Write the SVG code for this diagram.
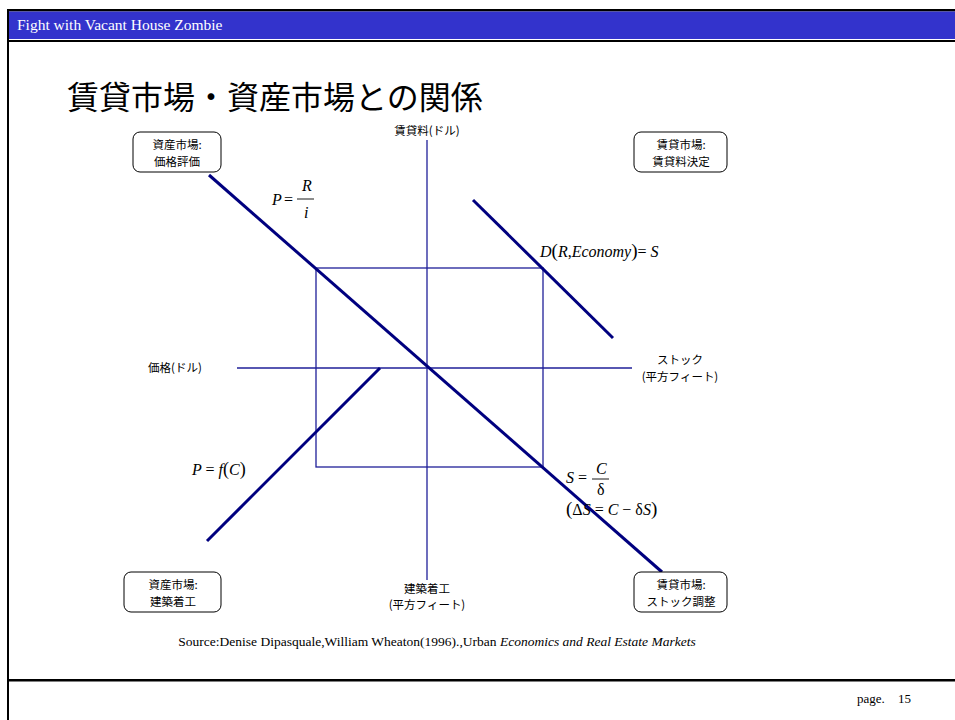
<svg xmlns="http://www.w3.org/2000/svg" width="955" height="720" viewBox="0 0 955 720">
<style>
.jp{font-family:"Noto Sans CJK JP","Noto Sans",sans-serif;font-size:11.5px;fill:#000}
.mc{font-family:"Liberation Serif","Times New Roman",serif;font-style:italic;font-size:16px;fill:#000}
.mr{font-family:"Liberation Serif","Times New Roman",serif;font-size:16px;fill:#000}
.serif{font-family:"Liberation Serif","Times New Roman",serif}
.box{fill:#fff;stroke:#000;stroke-width:1}
.thin{stroke:#1f1f99;stroke-width:1.3;fill:none}
.thick{stroke:#00007f;stroke-width:3;fill:none}
</style>
<rect x="0" y="0" width="955" height="720" fill="#fff"/>
<g id="frame">
<rect x="7" y="9" width="948" height="2.5" fill="#000"/>
<rect x="7" y="11.5" width="948" height="27.5" fill="#3333cc"/>
<rect x="7" y="40" width="948" height="2" fill="#000"/>
<rect x="7" y="9" width="2" height="711" fill="#000"/>
<rect x="7" y="679" width="948" height="2.5" fill="#000"/>
<text class="serif" x="17" y="30" font-size="15.5" fill="#fff">Fight with Vacant House Zombie</text>
<text class="serif" x="857" y="703" font-size="13" fill="#000">page.</text>
<text class="serif" x="898" y="703" font-size="13" fill="#000">15</text>
</g>
<text id="title" x="67" y="109" font-family="'Noto Sans CJK JP',sans-serif" font-size="32" fill="#000">賃貸市場・資産市場との関係</text>
<g id="axes">
<line class="thin" x1="427" y1="140" x2="427" y2="580"/>
<line class="thin" x1="237" y1="368" x2="632" y2="368"/>
<rect class="thin" x="316" y="268" width="227" height="199"/>
</g>
<g id="connectors">
<line class="thick" x1="209" y1="175" x2="662" y2="572"/>
<line class="thick" x1="473" y1="200" x2="613" y2="338"/>
<line class="thick" x1="380" y1="368" x2="207" y2="541"/>
</g>
<g id="axis-labels">
<text class="jp" x="427" y="135" text-anchor="middle">賃貸料(ドル)</text>
<text class="jp" x="148" y="372">価格(ドル)</text>
<text class="jp" x="680" y="364" text-anchor="middle">ストック</text>
<text class="jp" x="680" y="381" text-anchor="middle">(平方フィート)</text>
<text class="jp" x="427" y="593" text-anchor="middle">建築着工</text>
<text class="jp" x="427" y="609" text-anchor="middle">(平方フィート)</text>
</g>
<g id="node-tl">
<rect class="box" x="133" y="132" width="88" height="40" rx="7"/>
<text class="jp" x="177" y="149" text-anchor="middle">資産市場:</text>
<text class="jp" x="177" y="166" text-anchor="middle">価格評価</text>
</g>
<g id="node-tr">
<rect class="box" x="634" y="132" width="93" height="40" rx="7"/>
<text class="jp" x="681" y="149" text-anchor="middle">賃貸市場:</text>
<text class="jp" x="681" y="166" text-anchor="middle">賃貸料決定</text>
</g>
<g id="node-bl">
<rect class="box" x="124" y="572" width="97" height="40" rx="7"/>
<text class="jp" x="173" y="589" text-anchor="middle">資産市場:</text>
<text class="jp" x="173" y="606" text-anchor="middle">建築着工</text>
</g>
<g id="node-br">
<rect class="box" x="634" y="572" width="93" height="40" rx="7"/>
<text class="jp" x="681" y="589" text-anchor="middle">賃貸市場:</text>
<text class="jp" x="681" y="606" text-anchor="middle">ストック調整</text>
</g>
<g id="formulas">
<text class="mc" x="272" y="205">P</text>
<text class="mr" x="284" y="205">=</text>
<text class="mc" x="302" y="191">R</text>
<line x1="297" y1="199" x2="314" y2="199" stroke="#000" stroke-width="0.9"/>
<text class="mc" x="304" y="218">i</text>
<text class="mc" x="540" y="257">D<tspan font-style="normal" font-size="19">(</tspan>R<tspan font-style="normal">,</tspan>Economy<tspan font-style="normal" font-size="19">)</tspan><tspan font-style="normal">= </tspan>S</text>
<text class="mc" x="192" y="475">P <tspan font-style="normal">= </tspan>f<tspan font-style="normal" font-size="18">(</tspan>C<tspan font-style="normal" font-size="18">)</tspan></text>
<text class="mc" x="566" y="483">S</text>
<text class="mr" x="578" y="483">=</text>
<text class="mc" x="596" y="474">C</text>
<line x1="592" y1="479" x2="609" y2="479" stroke="#000" stroke-width="0.9"/>
<text class="mr" x="597" y="495">δ</text>
<text class="mr" x="566" y="515"><tspan font-size="19">(</tspan>Δ<tspan font-style="italic">S</tspan> = <tspan font-style="italic">C</tspan> − δ<tspan font-style="italic">S</tspan><tspan font-size="19">)</tspan></text>
</g>
<text id="source" class="serif" x="437" y="646" text-anchor="middle" font-size="13.5" fill="#000">Source:Denise Dipasquale,William Wheaton(1996).,Urban <tspan font-style="italic">Economics and Real Estate Markets</tspan></text>
</svg>
